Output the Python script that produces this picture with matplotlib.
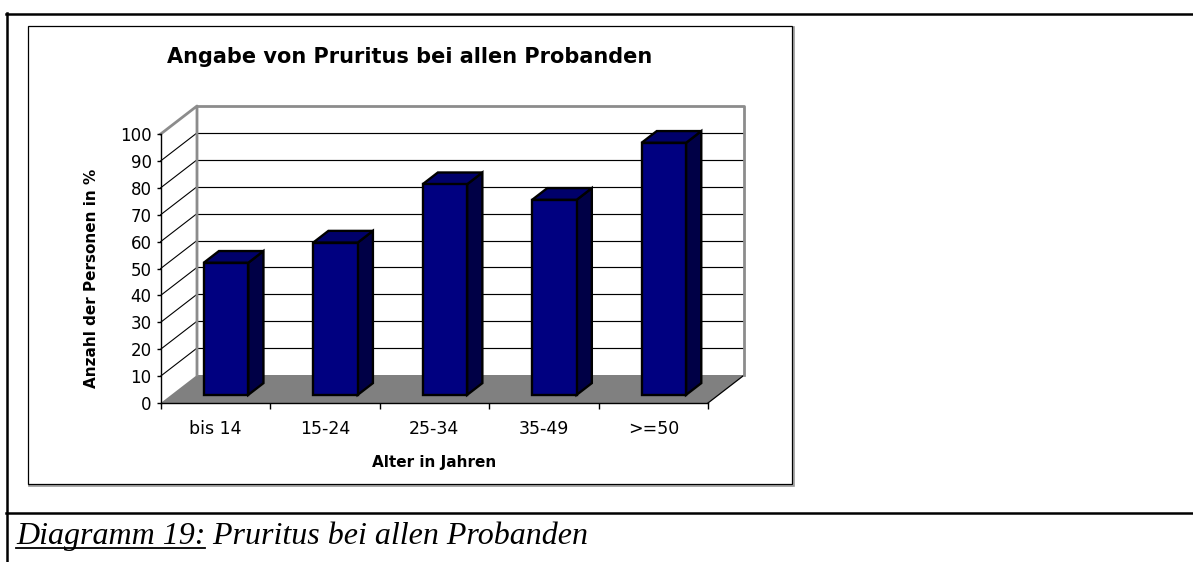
import matplotlib
matplotlib.use("Agg")
import matplotlib.pyplot as plt
from matplotlib.patches import Polygon, Rectangle
from matplotlib.lines import Line2D

# =============================================================================
# DATA
# =============================================================================
categories = ["bis 14", "15-24", "25-34", "35-49", ">=50"]
values = [49.1, 56.6, 78.3, 72.5, 93.7]
y_ticks = [0, 10, 20, 30, 40, 50, 60, 70, 80, 90, 100]

title = "Angabe von Pruritus bei allen Probanden"
x_label = "Alter in Jahren"
y_label = "Anzahl der Personen in %"
caption_num = "Diagramm 19:"
caption_txt = " Pruritus bei allen Probanden"

# colours
FRONT = "#000080"
SIDE = "#000046"
TOP = "#00006a"
FLOOR = "#808080"
WALL = "#8c8c8c"

W, H = 1193, 562


def fx(px):
    return px / W


def fy(py):
    return 1 - py / H


plt.rcParams["font.family"] = ["DejaVu Sans"]
fig = plt.figure(figsize=(W / 100, H / 100), dpi=100)

# page frame lines (document table)
fig.add_artist(Line2D([fx(6.5), 1], [fy(14), fy(14)], color="black", lw=1.8))
fig.add_artist(Line2D([fx(7.5), fx(7.5)], [fy(13), 0], color="black", lw=1.8))
fig.add_artist(Line2D([fx(6.5), 1], [fy(512.5), fy(512.5)], color="black", lw=1.8))

# chart box with faint shadow (behind the axes)
fig.add_artist(Rectangle((fx(29), fy(485.5)), fx(765), fy(27) - fy(485.5),
                         transform=fig.transFigure, fc="none", ec="#9a9a9a", lw=1.2,
                         zorder=-3))
fig.add_artist(Rectangle((fx(28), fy(484)), fx(764), fy(26) - fy(484),
                         transform=fig.transFigure, fc="white", ec="black", lw=0.9,
                         zorder=-2))

# =============================================================================
# PLOT AREA (front plane of the 3D chart)
# =============================================================================
x0p, x1p, y0p, y1p = 160.7, 708.0, 403.0, 134.0
ax = fig.add_axes([fx(x0p), fy(y0p), fx(x1p) - fx(x0p), fy(y1p) - fy(y0p)])
ax.patch.set_visible(False)
n = len(categories)
ax.set_xlim(0, n)
ax.set_ylim(0, 100)

# depth of the floor / walls in data units
px_per_cat = (x1p - x0p) / n
px_per_val = (y0p - y1p) / 100
DX = 36.3 / px_per_cat
DY = 28.0 / px_per_val

# floor
ax.add_patch(Polygon([(0, 0), (n, 0), (n + DX, DY), (DX, DY)], closed=True,
                     fc=FLOOR, ec="none", zorder=0, clip_on=False))
ax.plot([n, n + DX], [0, DY], color="black", lw=0.9, zorder=1, clip_on=False)

# grid lines on back and side wall
for v in y_ticks[1:-1]:
    ax.plot([DX, n + DX], [v + DY, v + DY], color="black", lw=0.85, zorder=1, clip_on=False)
    ax.plot([0, DX], [v, v + DY], color="black", lw=0.8, zorder=1, clip_on=False)

# wall border
ax.plot([0, DX, DX], [100, 100 + DY, DY], color=WALL, lw=2.0, zorder=1, clip_on=False)
ax.plot([DX, n + DX, n + DX], [100 + DY, 100 + DY, DY], color=WALL, lw=2.0, zorder=1,
        clip_on=False)

# bars
bw = 44.5 / px_per_cat
f0, f1 = 0.29, 0.71
ddx, ddy = (f1 - f0) * DX, (f1 - f0) * DY
for i, v in enumerate(values):
    bx = i + 0.5 - bw / 2 + f0 * DX
    by = f0 * DY
    ax.add_patch(Polygon([(bx + bw, by), (bx + bw + ddx, by + ddy),
                          (bx + bw + ddx, by + v + ddy), (bx + bw, by + v)],
                         closed=True, fc=SIDE, ec="black", lw=1.7, zorder=3,
                         clip_on=False, joinstyle="miter"))
    ax.add_patch(Polygon([(bx, by + v), (bx + bw, by + v),
                          (bx + bw + ddx, by + v + ddy), (bx + ddx, by + v + ddy)],
                         closed=True, fc=TOP, ec="black", lw=1.7, zorder=3,
                         clip_on=False, joinstyle="miter"))
    ax.add_patch(Rectangle((bx, by), bw, v, fc=FRONT, ec="black", lw=1.7, zorder=4,
                           clip_on=False, joinstyle="miter"))

# axes
for s in ["top", "right"]:
    ax.spines[s].set_visible(False)
for s in ["left", "bottom"]:
    ax.spines[s].set_color("black")
    ax.spines[s].set_linewidth(1.0)
    ax.spines[s].set_zorder(5)

ax.set_yticks(y_ticks)
ax.set_yticklabels([str(t) for t in y_ticks])
ax.tick_params(axis="y", length=3, width=1, pad=3.5, labelsize=12, colors="black")

ax.set_xticks(range(n + 1))
ax.set_xticklabels([])
ax.set_xticks([i + 0.5 for i in range(n)], minor=True)
ax.set_xticklabels(categories, minor=True)
ax.tick_params(axis="x", which="major", length=4.5, width=1)
ax.tick_params(axis="x", which="minor", length=0, pad=12, labelsize=12.5)

# texts
fig.text(fx(410), fy(63), title, ha="center", va="baseline", fontsize=15,
         fontweight="bold")
fig.text(fx(92), fy(278), y_label, ha="center", va="center", rotation=90,
         fontsize=11, fontweight="bold")
fig.text(fx(434), fy(463), x_label, ha="center", va="center", fontsize=11,
         fontweight="bold")

# caption with underlined number
base_y = fy(544)
t1 = fig.text(fx(16), base_y, caption_num, ha="left", va="baseline",
              family="Liberation Serif", style="italic", fontsize=23)
renderer = fig.canvas.get_renderer()
bb = t1.get_window_extent(renderer)
fig.add_artist(Line2D([bb.x0 / W, bb.x1 / W], [base_y - 4 / H, base_y - 4 / H],
                      color="black", lw=1.3))
fig.text(bb.x1 / W, base_y, caption_txt, ha="left", va="baseline",
         family="Liberation Serif", style="italic", fontsize=23)

fig.savefig("out.png", dpi=100)
